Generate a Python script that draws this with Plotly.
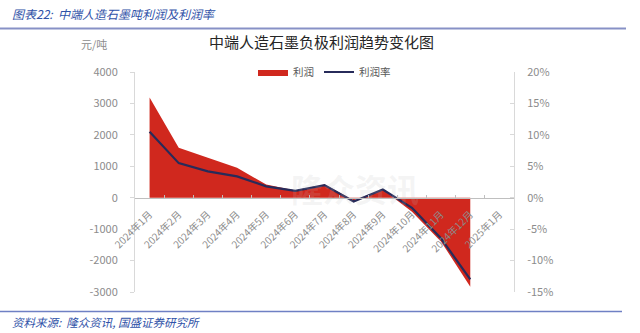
import plotly.graph_objects as go

# ---- data ----
months = ["2024年1月", "2024年2月", "2024年3月", "2024年4月", "2024年5月", "2024年6月",
          "2024年7月", "2024年8月", "2024年9月", "2024年10月", "2024年11月", "2024年12月",
          "2025年1月"]
profit = [3190, 1590, 1270, 950, 420, 230, 420, -80, 260, -450, -1400, -2830]   # 元/吨
profit_rate = [10.5, 5.5, 4.2, 3.4, 1.8, 1.1, 2.0, -0.6, 1.3, -1.6, -6.5, -13.0]  # %
rate_frac = [v / 100 for v in profit_rate]

left_ticks = [-3000, -2000, -1000, 0, 1000, 2000, 3000, 4000]
left_labels = ["-3000", "-2000", "-1000", "0", "1000", "2000", "3000", "4000"]
right_ticks = [-0.15, -0.10, -0.05, 0, 0.05, 0.10, 0.15, 0.20]
right_labels = ["-15%", "-10%", "-5%", "0%", "5%", "10%", "15%", "20%"]

W, H = 640, 333
ML, MR, MT, MB = 135, 126, 72, 41
PW, PH = W - ML - MR, H - MT - MB

def px(x):
    return (x - ML) / PW

def py(y):
    return (H - MB - y) / PH

FONT = "Noto Sans CJK SC"
RED = "#d0281e"
NAVY = "#272b5a"
GRAY = "#8c8c8c"
AX = "#d9d9d9"
BLUE = "#2f52a8"

fig = go.Figure()
fig.add_trace(go.Scatter(
    x=months[:len(profit)], y=profit, name="利润", mode="lines",
    line=dict(width=0, color=RED), fill="tozeroy", fillcolor=RED,
    yaxis="y", xaxis="x"))
fig.add_trace(go.Scatter(
    x=months[:len(rate_frac)], y=rate_frac, name="利润率", mode="lines",
    line=dict(width=2.2, color=NAVY), yaxis="y2", xaxis="x"))

ymin, ymax = left_ticks[0], left_ticks[-1]
zero_pos = (0 - ymin) / (ymax - ymin)

fig.update_layout(
    width=W, height=H,
    margin=dict(l=ML, r=MR, t=MT, b=MB),
    paper_bgcolor="white", plot_bgcolor="white",
    font=dict(family=FONT, size=11, color=GRAY),
    showlegend=True,
    legend=dict(orientation="h", x=0.5, xanchor="center", y=1.0, yanchor="middle",
                font=dict(size=10.5, color="#595959"), bgcolor="rgba(0,0,0,0)",
                itemwidth=30, tracegroupgap=0),
    xaxis=dict(type="category", categoryorder="array", categoryarray=months,
               range=[-0.5, len(months) - 0.5],
               anchor="free", position=zero_pos,
               showline=True, linecolor="#bfbfbf", linewidth=1,
               ticks="inside", tickson="boundaries", ticklen=3, tickcolor="#bfbfbf",
               tickangle=-45, tickfont=dict(size=10, color=GRAY),
               ticklabelstandoff=6,
               showgrid=False, zeroline=False),
    yaxis=dict(range=[ymin, ymax], tickvals=left_ticks, ticktext=left_labels,
               showgrid=False, zeroline=False,
               showline=True, linecolor=AX, ticks="outside", ticklen=4, tickcolor=AX,
               tickfont=dict(size=11, color=GRAY), ticklabelstandoff=10),
    yaxis2=dict(range=[right_ticks[0], right_ticks[-1]], tickvals=right_ticks,
                ticktext=right_labels, overlaying="y", side="right",
                showgrid=False, zeroline=False, showline=True, linecolor=AX,
                ticks="inside", ticklen=4, tickcolor=AX,
                tickfont=dict(size=11, color=GRAY), ticklabelstandoff=10),
)

# chart title
fig.add_annotation(text="中端人造石墨负极利润趋势变化图", xref="paper", yref="paper",
                   x=px(321), y=py(42), xanchor="center", yanchor="middle",
                   showarrow=False, font=dict(size=15, color="#262626", family=FONT))
# unit label
fig.add_annotation(text="元/吨", xref="paper", yref="paper",
                   x=px(94), y=py(44), xanchor="center", yanchor="middle",
                   showarrow=False, font=dict(size=11, color=GRAY, family=FONT))
# header
fig.add_annotation(text="<i>图表22:  中端人造石墨吨利润及利润率</i>", xref="paper", yref="paper",
                   x=px(10), y=py(14), xanchor="left", yanchor="middle",
                   showarrow=False, font=dict(size=12, color=BLUE, family=FONT))
# footer
fig.add_annotation(text="<i>资料来源:  隆众资讯, 国盛证券研究所</i>", xref="paper", yref="paper",
                   x=px(10), y=py(322), xanchor="left", yanchor="middle",
                   showarrow=False, font=dict(size=11.5, color=BLUE, family=FONT))
# watermark
fig.add_annotation(text="<b>隆众资讯</b>", xref="paper", yref="paper",
                   x=px(355), y=py(188), xanchor="center", yanchor="middle",
                   showarrow=False, font=dict(size=32, color="rgba(190,190,190,0.16)", family=FONT))

# header / footer rules
fig.add_shape(type="line", xref="paper", yref="paper", x0=px(0), x1=px(626),
              y0=py(28.5), y1=py(28.5), line=dict(color="#8791c6", width=2))
fig.add_shape(type="line", xref="paper", yref="paper", x0=px(0), x1=px(622),
              y0=py(311.5), y1=py(311.5), line=dict(color="#6f80c4", width=1.5))

fig.write_html("out.html")
